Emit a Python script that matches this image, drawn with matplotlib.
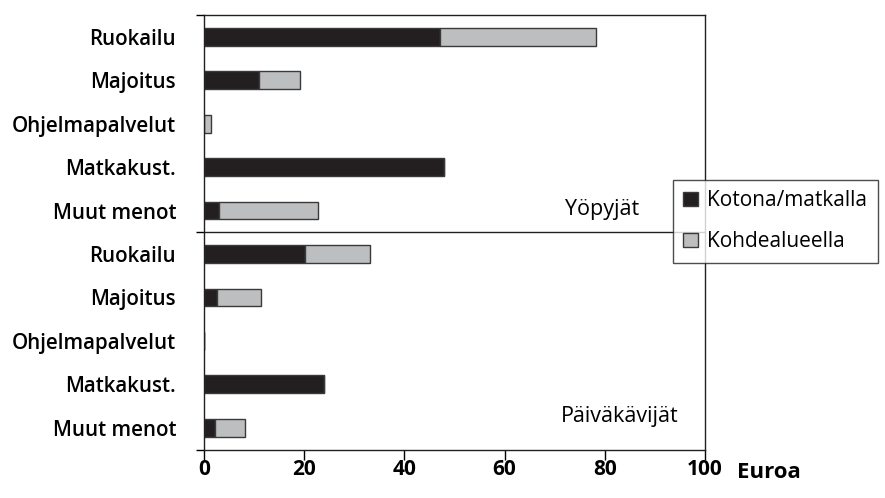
import matplotlib
matplotlib.use("Agg")
import matplotlib.pyplot as plt
from matplotlib.patches import Patch

plt.rcParams['font.family'] = ['Open Sans', 'DejaVu Sans']

categories = ["Ruokailu", "Majoitus", "Ohjelmapalvelut", "Matkakust.", "Muut menot",
              "Ruokailu", "Majoitus", "Ohjelmapalvelut", "Matkakust.", "Muut menot"]
kotona = [47.1, 11.0, 0.0, 48.0, 2.9, 20.1, 2.5, 0.0, 24.0, 2.2]
kohde = [31.1, 8.2, 1.3, 0.0, 19.9, 13.1, 8.8, 0.0, 0.0, 5.9]
groups = ["Yöpyjät", "Päiväkävijät"]
xticks = [0, 20, 40, 60, 80, 100]
series_names = ["Kotona/matkalla", "Kohdealueella"]

black = "#231f20"
grey = "#bcbec0"
edge = "#3a3a3a"

fig = plt.figure(figsize=(8.85, 4.98), dpi=100)
ax = fig.add_axes([204/885, 1-449.5/498, (705-204)/885, (449.5-15)/498])

ypos = [i + 0.5 for i in range(len(categories))]
ax.barh(ypos, kotona, height=0.41, color=black, edgecolor=edge, linewidth=1)
ax.barh(ypos, kohde, left=kotona, height=0.41, color=grey, edgecolor=edge, linewidth=1)

ax.set_ylim(10, 0)
ax.set_xlim(0, 100)
ax.axhline(5, color=black, lw=1)

ax.set_yticks([0, 5, 10])
ax.set_yticklabels([])
ax.set_yticks(ypos, minor=True)
ax.set_yticklabels(categories, minor=True, fontsize=14.8, fontweight='semibold')
ax.tick_params(axis='y', which='major', direction='out', length=6, width=1)
ax.tick_params(axis='y', which='minor', length=0, pad=20)

ax.set_xticks(xticks)
ax.set_xticklabels([str(v) for v in xticks], fontsize=15, fontweight='bold')
ax.tick_params(axis='x', direction='out', length=7, width=1, pad=0)

for s in ax.spines.values():
    s.set_color(black)
    s.set_linewidth(1)

ax.text(72, 4.47, groups[0], ha='left', va='center', fontsize=15.5)
ax.text(71.3, 9.23, groups[1], ha='left', va='center', fontsize=15.5)

fig.text(737/885, 1-472/498, "Euroa", ha='left', va='center', fontsize=16, fontweight='bold')

handles = [Patch(facecolor=black, edgecolor=edge), Patch(facecolor=grey, edgecolor=edge)]
leg = fig.legend(handles, series_names, loc='upper left',
                 bbox_to_anchor=(673/885, 1-180/498), fontsize=15,
                 frameon=True, fancybox=False, handlelength=0.7, handleheight=0.7,
                 handletextpad=0.45, labelspacing=0.95, borderpad=0.5, borderaxespad=0)
leg.get_frame().set_edgecolor(black)
leg.get_frame().set_linewidth(1)

fig.savefig("out.png", dpi=100)
